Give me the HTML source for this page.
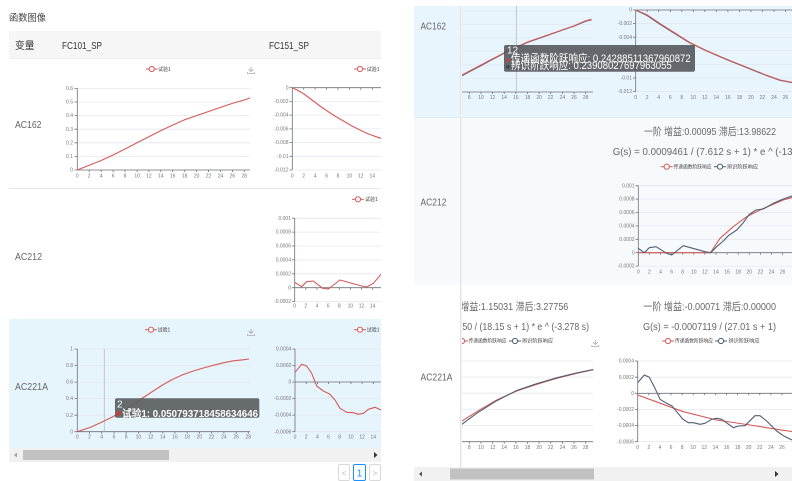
<!DOCTYPE html>
<html><head><meta charset="utf-8">
<style>
html,body{margin:0;padding:0;background:#fff;}
svg{display:block;font-family:"Liberation Sans","Noto Sans CJK SC",sans-serif;}
.ax{font-size:5px;fill:#777;}
.yl{text-anchor:end;}
.xl{text-anchor:middle;}
.g{stroke:#e3e7ef;stroke-width:0.8;fill:none;}
.a{stroke:#6e7079;stroke-width:0.8;fill:none;}
.r{stroke:#d65a5a;stroke-width:1.1;fill:none;stroke-linejoin:round;}
.d{stroke:#4f5f70;stroke-width:1.1;fill:none;stroke-linejoin:round;}
.lg{font-size:5px;fill:#444;}
.lab{font-size:10px;fill:#666;}
.tt{font-size:10.5px;fill:#666;}
</style></head>
<body>
<svg width="792" height="481" viewBox="0 0 792 481" xmlns="http://www.w3.org/2000/svg">
<defs>
<clipPath id="cl"><rect x="0" y="0" width="381" height="481"/></clipPath>
<clipPath id="cr"><rect x="460" y="0" width="332" height="481"/></clipPath>
<g id="dl">
<path d="M-2.5 -3 L0 -0.5 L2.5 -3 M0 -0.5 L0 -5 M-3.5 0 L-3.5 1.5 L3.5 1.5 L3.5 0" stroke="#aaa" stroke-width="0.8" fill="none"/>
</g>
<g id="lr"><line x1="-6" y1="0" x2="6" y2="0" stroke="#d65a5a" stroke-width="1"/><circle cx="0" cy="0" r="2.6" fill="#fff" stroke="#d65a5a" stroke-width="1"/></g>
<g id="ld"><line x1="-6" y1="0" x2="6" y2="0" stroke="#4f5f70" stroke-width="1"/><circle cx="0" cy="0" r="2.6" fill="#fff" stroke="#4f5f70" stroke-width="1"/></g>
</defs>

<!-- ================= LEFT PANEL ================= -->
<text x="9" y="21" style="font-size:9.5px;fill:#444" textLength="37" lengthAdjust="spacingAndGlyphs">函数图像</text>
<rect x="9" y="31" width="372" height="27" fill="#f6f6f6"/>
<text x="15" y="49" style="font-size:10px;fill:#333" textLength="19.5" lengthAdjust="spacingAndGlyphs">变量</text>
<text x="62" y="49" style="font-size:10.5px;fill:#333" textLength="40" lengthAdjust="spacingAndGlyphs">FC101_SP</text>
<text x="269" y="49" style="font-size:10.5px;fill:#333" textLength="40" lengthAdjust="spacingAndGlyphs">FC151_SP</text>
<line x1="9" y1="58.5" x2="381" y2="58.5" stroke="#eee"/>
<line x1="9" y1="188.5" x2="381" y2="188.5" stroke="#e8e8e8"/>
<rect x="9" y="319" width="372" height="129" fill="#e6f4fb"/>

<text x="15" y="128" class="lab" textLength="26.5" lengthAdjust="spacingAndGlyphs">AC162</text>
<text x="15" y="260" class="lab" textLength="27" lengthAdjust="spacingAndGlyphs">AC212</text>
<text x="15" y="390" class="lab" textLength="33" lengthAdjust="spacingAndGlyphs">AC221A</text>

<g clip-path="url(#cl)">
<!-- chart L1 -->
<use href="#lr" x="151.7" y="69"/><text x="158" y="70.8" class="lg">试验1</text>
<use href="#dl" x="251" y="72"/>
<g class="g"><line x1="77.3" y1="88.4" x2="250" y2="88.4"/><line x1="77.3" y1="102" x2="250" y2="102"/><line x1="77.3" y1="115.6" x2="250" y2="115.6"/><line x1="77.3" y1="129.2" x2="250" y2="129.2"/><line x1="77.3" y1="142.8" x2="250" y2="142.8"/><line x1="77.3" y1="156.4" x2="250" y2="156.4"/></g>
<path class="a" d="M77.3 88.4 V170 H250 M74.5 88.4 H77.3 M74.5 102 H77.3 M74.5 115.6 H77.3 M74.5 129.2 H77.3 M74.5 142.8 H77.3 M74.5 156.4 H77.3 M74.5 170 H77.3 M89.2 170 v2 M101.2 170 v2 M113.1 170 v2 M125 170 v2 M137.1 170 v2 M148.9 170 v2 M160.8 170 v2 M172.7 170 v2 M184.7 170 v2 M196.6 170 v2 M208.5 170 v2 M220.5 170 v2 M232.4 170 v2 M244.3 170 v2"/>
<g class="ax yl"><text x="73" y="90">0.6</text><text x="73" y="103.6">0.5</text><text x="73" y="117.2">0.4</text><text x="73" y="130.8">0.3</text><text x="73" y="144.4">0.2</text><text x="73" y="158">0.1</text><text x="73" y="171.6">0</text></g>
<g class="ax xl"><text x="77.3" y="177.5">0</text><text x="89.2" y="177.5">2</text><text x="101.2" y="177.5">4</text><text x="113.1" y="177.5">6</text><text x="125" y="177.5">8</text><text x="137.1" y="177.5">10</text><text x="148.9" y="177.5">12</text><text x="160.8" y="177.5">14</text><text x="172.7" y="177.5">16</text><text x="184.7" y="177.5">18</text><text x="196.6" y="177.5">20</text><text x="208.5" y="177.5">22</text><text x="220.5" y="177.5">24</text><text x="232.4" y="177.5">26</text><text x="244.3" y="177.5">28</text></g>
<polyline class="r" points="77.3,170 89.2,165.2 101.2,160.5 113.1,155 125,149 137,142.8 148.9,136.7 160.8,130.6 172.7,125.1 184.7,119.7 196.6,115.6 208.5,111.5 220.5,107.4 232.4,103.4 244.3,100 250,97.9"/>

<!-- chart L2 -->
<use href="#lr" x="360" y="69"/><text x="366.7" y="70.8" class="lg">试验1</text>
<g class="g"><line x1="292.3" y1="101.4" x2="381" y2="101.4"/><line x1="292.3" y1="115.1" x2="381" y2="115.1"/><line x1="292.3" y1="128.9" x2="381" y2="128.9"/><line x1="292.3" y1="142.6" x2="381" y2="142.6"/><line x1="292.3" y1="156.3" x2="381" y2="156.3"/><line x1="292.3" y1="170" x2="381" y2="170"/></g>
<path class="a" d="M292.3 87.7 V170 M292.3 87.7 H381 M289.5 87.7 H292.3 M289.5 101.4 H292.3 M289.5 115.1 H292.3 M289.5 128.9 H292.3 M289.5 142.6 H292.3 M289.5 156.3 H292.3 M289.5 170 H292.3 M303.7 87.7 v2 M315.1 87.7 v2 M326.6 87.7 v2 M338 87.7 v2 M349.4 87.7 v2 M360.8 87.7 v2 M372.3 87.7 v2"/>
<g class="ax yl"><text x="288.5" y="89.3">0</text><text x="288.5" y="103">-0.002</text><text x="288.5" y="116.7">-0.004</text><text x="288.5" y="130.5">-0.006</text><text x="288.5" y="144.2">-0.008</text><text x="288.5" y="157.9">-0.01</text><text x="288.5" y="171.6">-0.012</text></g>
<g class="ax xl"><text x="292.3" y="177.5">0</text><text x="303.7" y="177.5">2</text><text x="315.1" y="177.5">4</text><text x="326.6" y="177.5">6</text><text x="338" y="177.5">8</text><text x="349.4" y="177.5">10</text><text x="360.8" y="177.5">12</text><text x="372.3" y="177.5">14</text><text x="383.7" y="177.5">16</text></g>
<polyline class="r" points="292.3,87.7 298,90.5 304,94 310,98.5 316,103 322,107.5 328,111.5 334,115.5 340,119 346,122.5 352,126 358,129 364,132 370,134.5 376,136.7 382,138.7"/>

<!-- chart L row2 -->
<use href="#lr" x="358" y="199.3"/><text x="365" y="201.1" class="lg">试验1</text>
<g class="g"><line x1="294.7" y1="218.2" x2="381" y2="218.2"/><line x1="294.7" y1="232.1" x2="381" y2="232.1"/><line x1="294.7" y1="246" x2="381" y2="246"/><line x1="294.7" y1="259.9" x2="381" y2="259.9"/><line x1="294.7" y1="273.8" x2="381" y2="273.8"/><line x1="294.7" y1="301.6" x2="381" y2="301.6"/></g>
<path class="a" d="M294.7 218.2 V301.6 M294.7 287.7 H381 M292 218.2 H294.7 M292 232.1 H294.7 M292 246 H294.7 M292 259.9 H294.7 M292 273.8 H294.7 M292 287.7 H294.7 M292 301.6 H294.7 M305.8 287.7 v2 M317 287.7 v2 M328.1 287.7 v2 M339.3 287.7 v2 M350.4 287.7 v2 M361.5 287.7 v2 M372.7 287.7 v2"/>
<g class="ax yl"><text x="291" y="219.8">0.001</text><text x="291" y="233.7">0.0008</text><text x="291" y="247.6">0.0006</text><text x="291" y="261.5">0.0004</text><text x="291" y="275.4">0.0002</text><text x="291" y="289.3">0</text><text x="291" y="303.2">-0.0002</text></g>
<g class="ax xl"><text x="294.7" y="307.5">0</text><text x="305.8" y="307.5">2</text><text x="317" y="307.5">4</text><text x="328.1" y="307.5">6</text><text x="339.3" y="307.5">8</text><text x="350.4" y="307.5">10</text><text x="361.5" y="307.5">12</text><text x="372.7" y="307.5">14</text></g>
<polyline class="r" points="294.7,282.3 301.7,286.7 306.7,281.7 313.3,281 322.7,288.3 328.3,289 340,280 361.7,286 366.7,287 373.3,283.3 381,274.3"/>

<!-- chart L row3 c1 -->
<use href="#lr" x="151" y="329.7"/><text x="157.5" y="331.5" class="lg">试验1</text>
<use href="#dl" x="251" y="334"/>
<g class="g"><line x1="77.3" y1="349" x2="250" y2="349"/><line x1="77.3" y1="365.5" x2="250" y2="365.5"/><line x1="77.3" y1="382.1" x2="250" y2="382.1"/><line x1="77.3" y1="398.6" x2="250" y2="398.6"/><line x1="77.3" y1="415.2" x2="250" y2="415.2"/></g>
<path class="a" d="M77.3 349 V431.7 H250 M74.5 349 H77.3 M74.5 365.5 H77.3 M74.5 382.1 H77.3 M74.5 398.6 H77.3 M74.5 415.2 H77.3 M74.5 431.7 H77.3 M89.5 431.7 v2 M101.7 431.7 v2 M114 431.7 v2 M126.2 431.7 v2 M138.4 431.7 v2 M150.6 431.7 v2 M162.8 431.7 v2 M175 431.7 v2 M187.2 431.7 v2 M199.4 431.7 v2 M211.7 431.7 v2 M223.9 431.7 v2 M236.1 431.7 v2 M248.3 431.7 v2"/>
<g class="ax yl"><text x="73" y="350.6">1</text><text x="73" y="367.1">0.8</text><text x="73" y="383.7">0.6</text><text x="73" y="400.2">0.4</text><text x="73" y="416.8">0.2</text><text x="73" y="433.3">0</text></g>
<g class="ax xl"><text x="77.3" y="438.5">0</text><text x="89.5" y="438.5">2</text><text x="101.7" y="438.5">4</text><text x="114" y="438.5">6</text><text x="126.2" y="438.5">8</text><text x="138.4" y="438.5">10</text><text x="150.6" y="438.5">12</text><text x="162.8" y="438.5">14</text><text x="175" y="438.5">16</text><text x="187.2" y="438.5">18</text><text x="199.4" y="438.5">20</text><text x="211.7" y="438.5">22</text><text x="223.9" y="438.5">24</text><text x="236.1" y="438.5">26</text><text x="248.3" y="438.5">28</text></g>
<line x1="104.3" y1="349" x2="104.3" y2="431.7" stroke="#b8bcc0" stroke-width="0.8"/>
<polyline class="r" points="77.3,431.7 90,427.5 101,422.5 113.3,416.5 123,411 133.3,404.5 143.3,397.5 153.3,391 163.3,384.5 173.3,379 183.3,374.5 193.3,371 203.3,368 213.3,365.3 223.3,362.8 233.3,360.8 243,359.8 249,359"/>
<rect x="115" y="398.3" width="144.3" height="19.4" rx="2" fill="#5b5e61" fill-opacity="0.92"/>
<text x="117" y="407.5" style="font-size:10px;fill:#fff">2</text>
<circle cx="118.5" cy="413.3" r="2.2" fill="#d23b3b"/>
<text x="122" y="417" style="font-size:10.5px;fill:#fff;font-weight:bold" textLength="136" lengthAdjust="spacingAndGlyphs">试验1: 0.050793718458634646</text>

<!-- chart L row3 c2 -->
<use href="#lr" x="360" y="329.7"/><text x="366.7" y="331.5" class="lg">试验1</text>
<g class="g"><line x1="295" y1="349" x2="381" y2="349"/><line x1="295" y1="365.5" x2="381" y2="365.5"/><line x1="295" y1="398.6" x2="381" y2="398.6"/><line x1="295" y1="415.1" x2="381" y2="415.1"/><line x1="295" y1="431.7" x2="381" y2="431.7"/></g>
<path class="a" d="M295 349 V431.7 M295 382 H381 M292.3 349 H295 M292.3 365.5 H295 M292.3 382 H295 M292.3 398.6 H295 M292.3 415.1 H295 M292.3 431.7 H295 M306.2 382 v2 M317.4 382 v2 M328.5 382 v2 M339.7 382 v2 M350.9 382 v2 M362.1 382 v2 M373.3 382 v2"/>
<g class="ax yl"><text x="291.3" y="350.6">0.0004</text><text x="291.3" y="367.1">0.0002</text><text x="291.3" y="383.6">0</text><text x="291.3" y="400.2">-0.0002</text><text x="291.3" y="416.7">-0.0004</text><text x="291.3" y="433.3">-0.0006</text></g>
<g class="ax xl"><text x="295" y="438.5">0</text><text x="306.2" y="438.5">2</text><text x="317.4" y="438.5">4</text><text x="328.5" y="438.5">6</text><text x="339.7" y="438.5">8</text><text x="350.9" y="438.5">10</text><text x="362.1" y="438.5">12</text><text x="373.3" y="438.5">14</text></g>
<polyline class="r" points="295,372.3 301.7,364.3 306.7,366 311.7,373.3 316.7,386 323.3,391 330,394.3 335,400 340,408.3 346.7,412.3 353.3,412.7 358.3,414.3 363.3,413.3 368.3,409.3 375,407.3 381,410"/>
</g>

<!-- left scrollbar -->
<rect x="9" y="448" width="372" height="14" fill="#f1f1f1"/>
<rect x="23" y="450" width="146" height="10" fill="#c1c1c1"/>
<path d="M17 452.5 L14 455 L17 457.5 Z" fill="#a3a3a3"/>
<path d="M374 452 L377.5 455 L374 458 Z" fill="#333"/>
<!-- pagination -->
<rect x="338.5" y="464.5" width="11" height="16" rx="1.5" fill="#fff" stroke="#d9d9d9"/>
<text x="344" y="476" style="font-size:8px;fill:#bbb;text-anchor:middle">&lt;</text>
<rect x="353.5" y="464.5" width="12" height="16" rx="1.5" fill="#fff" stroke="#1890ff"/>
<text x="359.5" y="476.5" style="font-size:10px;fill:#1890ff;text-anchor:middle">1</text>
<rect x="369.5" y="464.5" width="11" height="16" rx="1.5" fill="#fff" stroke="#d9d9d9"/>
<text x="375" y="476" style="font-size:8px;fill:#bbb;text-anchor:middle">&gt;</text>

<!-- ================= RIGHT PANEL ================= -->
<rect x="414" y="6" width="378" height="111" fill="#e8f5fd"/>
<rect x="414" y="117" width="378" height="168" fill="#f7fafd"/>
<rect x="414" y="285" width="378" height="182" fill="#fff"/>
<line x1="414" y1="117.5" x2="792" y2="117.5" stroke="#e6eaee"/>

<g clip-path="url(#cr)">
<!-- R row1 c1 -->
<g class="g"><line x1="460" y1="11" x2="593" y2="11"/><line x1="460" y1="24.5" x2="593" y2="24.5"/><line x1="460" y1="38" x2="593" y2="38"/><line x1="460" y1="51.5" x2="593" y2="51.5"/><line x1="460" y1="65" x2="593" y2="65"/><line x1="460" y1="78.5" x2="593" y2="78.5"/></g>
<path class="a" d="M460 92 H593 M469.3 92 v2 M481 92 v2 M492.6 92 v2 M504.2 92 v2 M515.9 92 v2 M527.5 92 v2 M539.1 92 v2 M550.7 92 v2 M562.4 92 v2 M574 92 v2 M585.7 92 v2"/>
<g class="ax xl"><text x="469.3" y="99">8</text><text x="481" y="99">10</text><text x="492.6" y="99">12</text><text x="504.2" y="99">14</text><text x="515.9" y="99">16</text><text x="527.5" y="99">18</text><text x="539.1" y="99">20</text><text x="550.7" y="99">22</text><text x="562.4" y="99">24</text><text x="574" y="99">26</text><text x="585.7" y="99">28</text></g>
<line x1="516.3" y1="6" x2="516.3" y2="92" stroke="#b8bcc0" stroke-width="0.8"/>
<polyline class="d" points="460,76.8 469.3,71.8 481,65.6 492.5,59.4 504.2,53.3 515.8,47.7 527.5,42.4 539.1,38.3 550.7,34.2 562.4,30.1 574,26.1 585.7,21.2 591.5,19.8"/>
<polyline class="r" points="460,76.1 469.3,71.1 481,65 492.5,58.9 504.2,52.9 515.8,47.4 527.5,42 539.1,38 550.7,34 562.4,29.9 574,25.9 585.7,20.8 591.5,19.3"/>

<!-- R row1 c2 -->
<g class="g"><line x1="635.7" y1="23.6" x2="792" y2="23.6"/><line x1="635.7" y1="37.2" x2="792" y2="37.2"/><line x1="635.7" y1="50.8" x2="792" y2="50.8"/><line x1="635.7" y1="64.4" x2="792" y2="64.4"/><line x1="635.7" y1="78" x2="792" y2="78"/><line x1="635.7" y1="91.6" x2="792" y2="91.6"/></g>
<path class="a" d="M635.7 10 V91.6 M635.7 10 H792 M633 10 H635.7 M633 23.6 H635.7 M633 37.2 H635.7 M633 50.8 H635.7 M633 64.4 H635.7 M633 78 H635.7 M633 91.6 H635.7 M647.2 10 v2 M658.7 10 v2 M670.3 10 v2 M681.8 10 v2 M693.3 10 v2 M704.8 10 v2 M716.3 10 v2 M727.9 10 v2 M739.4 10 v2 M750.9 10 v2 M762.4 10 v2 M774 10 v2 M785.5 10 v2"/>
<g class="ax yl"><text x="632" y="11.6">0</text><text x="632" y="25.2">-0.002</text><text x="632" y="38.8">-0.004</text><text x="632" y="52.4">-0.006</text><text x="632" y="66">-0.008</text><text x="632" y="79.6">-0.01</text><text x="632" y="93.2">-0.012</text></g>
<g class="ax xl"><text x="635.7" y="99">0</text><text x="647.2" y="99">2</text><text x="658.7" y="99">4</text><text x="670.3" y="99">6</text><text x="681.8" y="99">8</text><text x="693.3" y="99">10</text><text x="704.8" y="99">12</text><text x="716.3" y="99">14</text><text x="727.9" y="99">16</text><text x="739.4" y="99">18</text><text x="750.9" y="99">20</text><text x="762.4" y="99">22</text><text x="774" y="99">24</text><text x="785.5" y="99">26</text></g>
<polyline class="d" points="635.7,10.3 646.7,15.3 660,24.3 673.3,32.6 690,43 706.7,51 726.7,59.6 746.7,67.6 766.7,75.6 780,80.3 792,82.6"/>
<polyline class="r" points="635.7,10 646.7,14.6 660,23.6 673.3,32 690,42.6 706.7,50.7 726.7,59.3 746.7,67.3 766.7,75.3 780,80 792,82.3"/>

<!-- tooltip R row1 -->
<rect x="504" y="45" width="191" height="26.7" rx="2" fill="#55595d" fill-opacity="0.9"/>
<text x="507" y="53.5" style="font-size:10px;fill:#fff">12</text>
<rect x="506.3" y="58.5" width="3" height="3" fill="#d23b3b"/>
<text x="511" y="62" style="font-size:11px;fill:#fff" textLength="179.7" lengthAdjust="spacingAndGlyphs">传递函数阶跃响应: 0.24288511367960872</text>
<rect x="506.3" y="65.3" width="3" height="3" fill="#2f4554"/>
<text x="511" y="68.8" style="font-size:11px;fill:#fff" textLength="160.7" lengthAdjust="spacingAndGlyphs">辨识阶跃响应: 0.23908027697963055</text>

<!-- R row2 -->
<text x="644" y="135" class="tt" textLength="132" lengthAdjust="spacingAndGlyphs">一阶 增益:0.00095 滞后:13.98622</text>
<text x="612.7" y="155" class="tt" textLength="204" lengthAdjust="spacingAndGlyphs">G(s) = 0.0009461 / (7.612 s + 1) * e ^ (-13.99 s)</text>
<use href="#lr" x="666.7" y="166.7"/><text x="673.5" y="168.4" class="lg" textLength="38" lengthAdjust="spacingAndGlyphs">传递函数阶跃响应</text>
<use href="#ld" x="720" y="166.7"/><text x="727" y="168.4" class="lg" textLength="31" lengthAdjust="spacingAndGlyphs">辨识阶跃响应</text>
<g class="g"><line x1="638.3" y1="185.7" x2="792" y2="185.7"/><line x1="638.3" y1="199.1" x2="792" y2="199.1"/><line x1="638.3" y1="212.5" x2="792" y2="212.5"/><line x1="638.3" y1="225.9" x2="792" y2="225.9"/><line x1="638.3" y1="239.3" x2="792" y2="239.3"/><line x1="638.3" y1="266.1" x2="792" y2="266.1"/></g>
<path class="a" d="M638.3 185.7 V266.1 M638.3 252.7 H792 M635.6 185.7 H638.3 M635.6 199.1 H638.3 M635.6 212.5 H638.3 M635.6 225.9 H638.3 M635.6 239.3 H638.3 M635.6 252.7 H638.3 M635.6 266.1 H638.3 M649.4 252.7 v2 M660.5 252.7 v2 M671.6 252.7 v2 M682.7 252.7 v2 M693.8 252.7 v2 M704.9 252.7 v2 M716 252.7 v2 M727.1 252.7 v2 M738.2 252.7 v2 M749.3 252.7 v2 M760.4 252.7 v2 M771.5 252.7 v2 M782.6 252.7 v2"/>
<g class="ax yl"><text x="634.6" y="187.3">0.001</text><text x="634.6" y="200.7">0.0008</text><text x="634.6" y="214.1">0.0006</text><text x="634.6" y="227.5">0.0004</text><text x="634.6" y="240.9">0.0002</text><text x="634.6" y="254.3">0</text><text x="634.6" y="267.7">-0.0002</text></g>
<g class="ax xl"><text x="638.3" y="273.5">0</text><text x="649.4" y="273.5">2</text><text x="660.5" y="273.5">4</text><text x="671.6" y="273.5">6</text><text x="682.7" y="273.5">8</text><text x="693.8" y="273.5">10</text><text x="704.9" y="273.5">12</text><text x="716" y="273.5">14</text><text x="727.1" y="273.5">16</text><text x="738.2" y="273.5">18</text><text x="749.3" y="273.5">20</text><text x="760.4" y="273.5">22</text><text x="771.5" y="273.5">24</text><text x="782.6" y="273.5">26</text></g>
<polyline class="r" points="638.3,252.7 710.5,252.7 720,238.3 733.3,226.7 746.7,216.7 760,210 773.3,204.3 783.3,200 792,197.5"/>
<polyline class="d" points="638.3,248.3 644.3,252.7 649.3,247.7 656,246.7 666.7,253.3 671.7,255 683.3,245.7 705,251.7 710.7,252.7 716.7,246.7 723.3,241 728.3,235.7 736.7,230 743.3,222.7 749.3,214.3 756,210 763.3,209 773.3,203.3 783.3,199 792,196"/>

<!-- R row3 c1 -->
<text x="440" y="310" class="tt" textLength="128.3" lengthAdjust="spacingAndGlyphs">一阶 增益:1.15031 滞后:3.27756</text>
<text x="423" y="330" class="tt" textLength="166" lengthAdjust="spacingAndGlyphs">G(s) = 1.150 / (18.15 s + 1) * e ^ (-3.278 s)</text>
<use href="#lr" x="462" y="341"/><text x="468.5" y="342.7" class="lg" textLength="38" lengthAdjust="spacingAndGlyphs">传递函数阶跃响应</text>
<use href="#ld" x="515" y="341"/><text x="522" y="342.7" class="lg" textLength="31" lengthAdjust="spacingAndGlyphs">辨识阶跃响应</text>
<use href="#dl" x="595.3" y="345"/>
<g class="g"><line x1="460" y1="361" x2="593" y2="361"/><line x1="460" y1="377.1" x2="593" y2="377.1"/><line x1="460" y1="393.2" x2="593" y2="393.2"/><line x1="460" y1="409.3" x2="593" y2="409.3"/><line x1="460" y1="425.4" x2="593" y2="425.4"/></g>
<path class="a" d="M460 441.7 H593 M469.3 441.7 v2 M481 441.7 v2 M492.6 441.7 v2 M504.2 441.7 v2 M515.9 441.7 v2 M527.5 441.7 v2 M539.1 441.7 v2 M550.7 441.7 v2 M562.4 441.7 v2 M574 441.7 v2 M585.7 441.7 v2"/>
<g class="ax xl"><text x="469.3" y="449">8</text><text x="481" y="449">10</text><text x="492.6" y="449">12</text><text x="504.2" y="449">14</text><text x="515.9" y="449">16</text><text x="527.5" y="449">18</text><text x="539.1" y="449">20</text><text x="550.7" y="449">22</text><text x="562.4" y="449">24</text><text x="574" y="449">26</text><text x="585.7" y="449">28</text></g>
<polyline class="r" points="460,422.3 476.7,411.7 496.7,400 516.7,391 536.7,384.3 556.7,378.3 576.7,373.3 593.3,369.7"/>
<polyline class="d" points="460,425.7 476.7,413.3 496.7,400.7 516.7,390.5 536.7,383.7 556.7,377.8 576.7,372.9 593.3,369.5"/>

<!-- R row3 c2 -->
<text x="643.3" y="310" class="tt" textLength="132.7" lengthAdjust="spacingAndGlyphs">一阶 增益:-0.00071 滞后:0.00000</text>
<text x="643" y="330" class="tt" textLength="133" lengthAdjust="spacingAndGlyphs">G(s) = -0.0007119 / (27.01 s + 1)</text>
<use href="#lr" x="668" y="341"/><text x="675" y="342.7" class="lg" textLength="38" lengthAdjust="spacingAndGlyphs">传递函数阶跃响应</text>
<use href="#ld" x="721" y="341"/><text x="728.5" y="342.7" class="lg" textLength="31" lengthAdjust="spacingAndGlyphs">辨识阶跃响应</text>
<g class="g"><line x1="637.7" y1="361" x2="792" y2="361"/><line x1="637.7" y1="377.2" x2="792" y2="377.2"/><line x1="637.7" y1="409.4" x2="792" y2="409.4"/><line x1="637.7" y1="425.5" x2="792" y2="425.5"/><line x1="637.7" y1="441.7" x2="792" y2="441.7"/></g>
<path class="a" d="M637.7 361 V441.7 M637.7 393.3 H792 M635 361 H637.7 M635 377.2 H637.7 M635 393.3 H637.7 M635 409.4 H637.7 M635 425.5 H637.7 M635 441.7 H637.7 M648.8 393.3 v2 M659.9 393.3 v2 M671 393.3 v2 M682.1 393.3 v2 M693.2 393.3 v2 M704.3 393.3 v2 M715.4 393.3 v2 M726.5 393.3 v2 M737.6 393.3 v2 M748.7 393.3 v2 M759.8 393.3 v2 M770.9 393.3 v2 M782 393.3 v2"/>
<g class="ax yl"><text x="634" y="362.6">0.0004</text><text x="634" y="378.8">0.0002</text><text x="634" y="394.9">0</text><text x="634" y="411">-0.0002</text><text x="634" y="427.1">-0.0004</text><text x="634" y="443.3">-0.0006</text></g>
<g class="ax xl"><text x="637.7" y="449">0</text><text x="648.8" y="449">2</text><text x="659.9" y="449">4</text><text x="671" y="449">6</text><text x="682.1" y="449">8</text><text x="693.2" y="449">10</text><text x="704.3" y="449">12</text><text x="715.4" y="449">14</text><text x="726.5" y="449">16</text><text x="737.6" y="449">18</text><text x="748.7" y="449">20</text><text x="759.8" y="449">22</text><text x="770.9" y="449">24</text><text x="782" y="449">26</text></g>
<polyline class="r" points="637.7,395 653.3,400.7 683.3,411.7 716.7,420 750,425 783.3,430.3 792,431.5"/>
<polyline class="d" points="637.7,382.7 644.3,375 649.3,377.3 655,388.3 660,399.3 666.7,403.3 671.7,405.7 676.7,411.7 682.7,419 688.3,422.7 693.3,422.7 700,424.3 705,423.3 711.7,419.3 716.7,418.3 721.7,419.3 733.3,427.7 738.3,426 745,425.7 755,415.7 760,415.7 766.7,421 776.7,431 783.3,435.7 792,440"/>
</g>

<!-- fixed column -->
<text x="420.5" y="29.5" class="lab" textLength="25.5" lengthAdjust="spacingAndGlyphs">AC162</text>
<text x="420.5" y="205.5" class="lab" textLength="26" lengthAdjust="spacingAndGlyphs">AC212</text>
<text x="420.5" y="380.5" class="lab" textLength="32" lengthAdjust="spacingAndGlyphs">AC221A</text>
<line x1="460.5" y1="6" x2="460.5" y2="467" stroke="#e2e5e8"/>
<line x1="461.5" y1="6" x2="461.5" y2="467" stroke="#f2f3f4"/>

<!-- right scrollbar -->
<rect x="414" y="467" width="378" height="14" fill="#f1f1f1"/>
<rect x="450" y="468.5" width="144" height="11" fill="#c1c1c1"/>
<path d="M422 471.5 L419 474 L422 476.5 Z" fill="#555"/>
<path d="M775 471 L778.5 474 L775 477 Z" fill="#333"/>
</svg>
</body></html>
